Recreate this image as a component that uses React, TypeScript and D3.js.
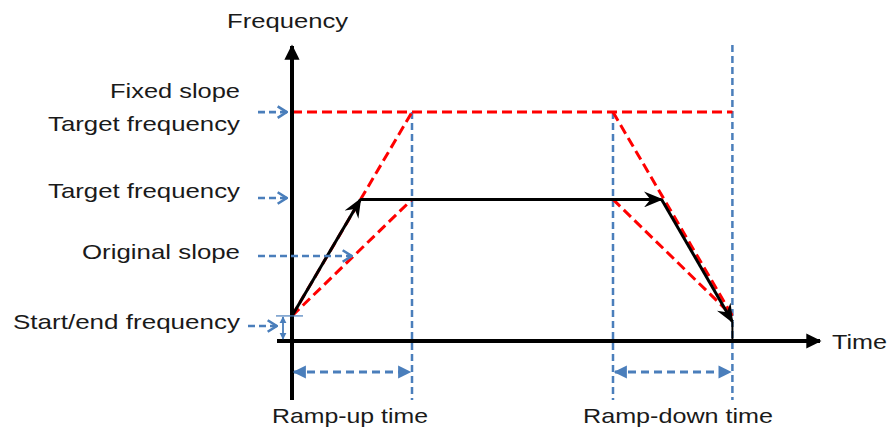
import React from 'react';
import * as d3 from 'd3';

// time points (arbitrary units) and frequency levels (% of axis)
const timePoints = { accelEnd: 5.7, rampUpEnd: 10, rampDownStart: 26.75, decelEnd: 30.8, stop: 36.7 };
const freqLevels = { startEnd: 8.5, target: 48, fixedTarget: 77.6 };

const leftLabels = [
  { text: 'Fixed slope', y: 98, w: 130 },
  { text: 'Target frequency', y: 131, w: 192 },
  { text: 'Target frequency', y: 198, w: 192 },
  { text: 'Original slope', y: 259, w: 158 },
  { text: 'Start/end frequency', y: 329, w: 227 },
];

const W = 892;
const H = 431;
const BLUE = '#4a7ebb';
const RED = '#ff0000';
const TXT = '#1a1a1a';
const FONT = '"Liberation Sans", Arial, sans-serif';

const App: React.FC = () => {
  const x = d3.scaleLinear().domain([0, 44]).range([292, 820]);
  const y = d3.scaleLinear().domain([0, 100]).range([341, 46]);
  const line = d3.line<[number, number]>().x(d => x(d[0])).y(d => y(d[1]));

  const t = timePoints;
  const f = freqLevels;
  const x0 = x(0);
  const yBase = y(0);
  const yBottom = 400;

  return (
    <svg width={W} height={H} style={{ position: 'absolute', left: 0, top: 0, background: '#fff' }}>
      <defs>
        <marker id="axisArrow" viewBox="0 0 10 10" refX="9" refY="5" markerWidth="3.8" markerHeight="3.8" orient="auto" markerUnits="strokeWidth">
          <path d="M0,0 L10,5 L0,10 z" fill="#000" />
        </marker>
        <marker id="blackBarb" viewBox="0 0 12 10" refX="11" refY="5" markerWidth="6.4" markerHeight="5.4" orient="auto" markerUnits="strokeWidth">
          <path d="M0,0 L12,5 L0,10 L4,5 z" fill="#000" />
        </marker>
        <marker id="blueTri" viewBox="0 0 10 10" refX="9" refY="5" markerWidth="5" markerHeight="4.4" orient="auto-start-reverse" markerUnits="strokeWidth">
          <path d="M0,0 L10,5 L0,10 z" fill={BLUE} />
        </marker>
        <marker id="blueSmall" viewBox="0 0 10 10" refX="9" refY="5" markerWidth="4" markerHeight="4.5" orient="auto-start-reverse" markerUnits="strokeWidth">
          <path d="M0,0 L10,5 L0,10 z" fill={BLUE} />
        </marker>
        <marker id="blueOpen" viewBox="0 0 10 12" refX="9" refY="6" markerWidth="4.6" markerHeight="5.6" orient="auto" markerUnits="strokeWidth">
          <path d="M1.2,1.2 L8.8,6 L1.2,10.8" fill="none" stroke={BLUE} strokeWidth="2.2" />
        </marker>
      </defs>

      {/* blue vertical guides */}
      <g stroke={BLUE} strokeWidth={2.5} strokeDasharray="7,4" fill="none">
        <line x1={x(t.rampUpEnd)} x2={x(t.rampUpEnd)} y1={y(f.fixedTarget)} y2={yBottom} />
        <line x1={x(t.rampDownStart)} x2={x(t.rampDownStart)} y1={y(f.fixedTarget)} y2={yBottom} />
        <line x1={x(t.stop)} x2={x(t.stop)} y1={45} y2={yBottom} />
      </g>

      {/* red dashed slopes */}
      <g stroke={RED} strokeWidth={3} strokeDasharray="10,5" fill="none">
        <path d={line([[0, f.fixedTarget], [t.stop, f.fixedTarget]])!} />
        <path d={line([[0, f.startEnd], [t.rampUpEnd, f.fixedTarget]])!} />
        <path d={line([[0, f.startEnd], [t.rampUpEnd, f.target]])!} />
        <path d={line([[t.rampDownStart, f.fixedTarget], [t.stop, f.startEnd]])!} />
        <path d={line([[t.rampDownStart, f.target], [t.stop, f.startEnd]])!} />
      </g>

      {/* axes */}
      <line x1={x0} x2={x0} y1={yBottom} y2={46} stroke="#000" strokeWidth={4} markerEnd="url(#axisArrow)" />
      <line x1={277} x2={x(44)} y1={yBase} y2={yBase} stroke="#000" strokeWidth={4} markerEnd="url(#axisArrow)" />

      {/* black actual profile */}
      <g stroke="#000" strokeWidth={3} fill="none">
        <path d={line([[0, f.startEnd], [t.accelEnd, f.target]])!} markerEnd="url(#blackBarb)" />
        <path d={line([[t.accelEnd, f.target], [t.decelEnd, f.target]])!} markerEnd="url(#blackBarb)" />
        <path d={line([[t.decelEnd, f.target], [t.stop, f.startEnd - 2]])!} markerEnd="url(#blackBarb)" />
        <path d={line([[t.stop, f.startEnd - 2], [t.stop, 0]])!} strokeWidth={2} />
      </g>

      {/* blue duration arrows */}
      <g stroke={BLUE} strokeWidth={3} strokeDasharray="8,5" fill="none">
        <line x1={x0 + 2} x2={x(t.rampUpEnd) - 2} y1={372} y2={372} markerStart="url(#blueTri)" markerEnd="url(#blueTri)" />
        <line x1={x(t.rampDownStart) + 2} x2={x(t.stop) - 2} y1={372} y2={372} markerStart="url(#blueTri)" markerEnd="url(#blueTri)" />
      </g>
      <line x1={283} x2={283} y1={y(f.startEnd) + 1} y2={yBase - 2} stroke={BLUE} strokeWidth={1.8} markerStart="url(#blueSmall)" markerEnd="url(#blueSmall)" />
      <line x1={276} x2={x0 + 11} y1={y(f.startEnd)} y2={y(f.startEnd)} stroke={BLUE} strokeWidth={1.2} />

      {/* blue label pointers */}
      <g stroke={BLUE} strokeWidth={2.6} strokeDasharray="7,4" fill="none">
        <line x1={258} x2={287} y1={y(f.fixedTarget)} y2={y(f.fixedTarget)} markerEnd="url(#blueOpen)" />
        <line x1={258} x2={287} y1={198} y2={198} markerEnd="url(#blueOpen)" />
        <line x1={258} x2={352} y1={256} y2={256} markerEnd="url(#blueOpen)" />
        <line x1={248} x2={277} y1={326} y2={326} markerEnd="url(#blueOpen)" />
      </g>

      {/* texts */}
      <g fontFamily={FONT} fontSize={21} fill={TXT}>
        {leftLabels.map((l, i) => (
          <text key={i} x={240} y={l.y} textAnchor="end" textLength={l.w} lengthAdjust="spacingAndGlyphs">{l.text}</text>
        ))}
        <text x={227} y={28} textLength={121} lengthAdjust="spacingAndGlyphs">Frequency</text>
        <text x={832} y={349} textLength={55} lengthAdjust="spacingAndGlyphs">Time</text>
        <text x={272} y={423} textLength={156} lengthAdjust="spacingAndGlyphs">Ramp-up time</text>
        <text x={583} y={423} textLength={190} lengthAdjust="spacingAndGlyphs">Ramp-down time</text>
      </g>
    </svg>
  );
};

export default App;
